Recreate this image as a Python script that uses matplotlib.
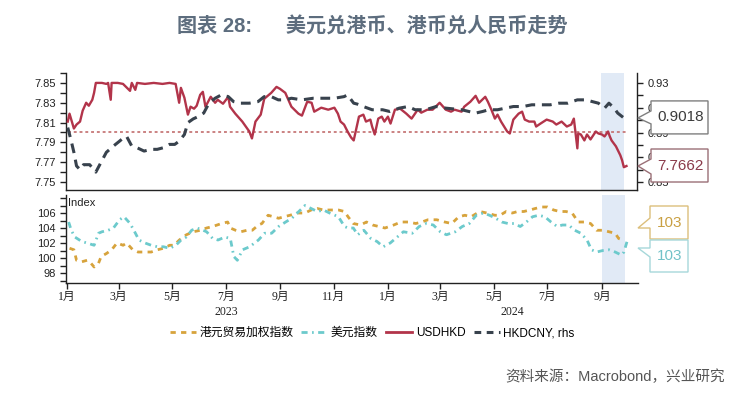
import matplotlib
matplotlib.use('Agg')
import matplotlib.pyplot as plt
import matplotlib.dates as mdates
from matplotlib.patches import Polygon
from matplotlib.ticker import MultipleLocator, FuncFormatter
from matplotlib.lines import Line2D
import pandas as pd

plt.rcParams['font.family'] = ['Liberation Sans', 'Noto Sans CJK SC', 'DejaVu Sans']

# ---------------- data ----------------
usdhkd_dates = [
    "2023-01-02", "2023-01-04", "2023-01-09", "2023-01-12", "2023-01-16", "2023-01-19", "2023-01-23",
    "2023-01-26", "2023-01-30", "2023-02-01", "2023-02-03", "2023-02-10", "2023-02-15", "2023-02-17",
    "2023-02-20", "2023-02-21", "2023-02-28", "2023-03-06", "2023-03-14", "2023-03-16", "2023-03-20",
    "2023-03-22", "2023-03-31", "2023-04-10", "2023-04-20", "2023-04-28", "2023-05-05", "2023-05-09",
    "2023-05-11", "2023-05-15", "2023-05-19", "2023-05-22", "2023-05-26", "2023-05-29", "2023-06-02",
    "2023-06-05", "2023-06-08", "2023-06-14", "2023-06-19", "2023-06-22", "2023-06-28", "2023-07-04",
    "2023-07-06", "2023-07-12", "2023-07-20", "2023-07-28", "2023-07-31", "2023-08-04", "2023-08-10",
    "2023-08-14", "2023-08-22", "2023-08-28", "2023-09-01", "2023-09-07", "2023-09-14", "2023-09-22",
    "2023-09-26", "2023-10-02", "2023-10-07", "2023-10-10", "2023-10-18", "2023-10-26", "2023-11-02",
    "2023-11-06", "2023-11-09", "2023-11-13", "2023-11-17", "2023-11-21", "2023-11-24", "2023-11-30",
    "2023-12-05", "2023-12-08", "2023-12-13", "2023-12-15", "2023-12-18", "2023-12-22", "2023-12-26",
    "2023-12-29", "2024-01-02", "2024-01-05", "2024-01-10", "2024-01-16", "2024-01-23", "2024-01-29",
    "2024-02-05", "2024-02-09", "2024-02-16", "2024-02-22", "2024-03-01", "2024-03-08", "2024-03-14",
    "2024-03-18", "2024-03-26", "2024-03-29", "2024-04-05", "2024-04-11", "2024-04-15", "2024-04-22",
    "2024-04-25", "2024-04-29", "2024-05-03", "2024-05-06", "2024-05-10", "2024-05-17", "2024-05-20",
    "2024-05-24", "2024-05-30", "2024-06-03", "2024-06-06", "2024-06-11", "2024-06-17", "2024-06-19",
    "2024-06-24", "2024-07-01", "2024-07-08", "2024-07-12", "2024-07-18", "2024-07-24", "2024-07-29",
    "2024-08-01", "2024-08-05", "2024-08-06", "2024-08-09", "2024-08-13", "2024-08-16", "2024-08-20",
    "2024-08-26", "2024-08-29", "2024-09-02", "2024-09-05", "2024-09-09", "2024-09-11", "2024-09-13",
    "2024-09-18", "2024-09-23", "2024-09-25", "2024-09-27", "2024-09-30",
]
usdhkd_values = [
    7.811, 7.819, 7.804, 7.808, 7.811, 7.822, 7.830,
    7.827, 7.833, 7.840, 7.850, 7.850, 7.849, 7.850,
    7.833, 7.850, 7.850, 7.849, 7.842, 7.850, 7.843,
    7.850, 7.849, 7.850, 7.849, 7.850, 7.849, 7.830,
    7.845, 7.835, 7.818, 7.826, 7.824, 7.827, 7.838,
    7.841, 7.826, 7.836, 7.830, 7.833, 7.829, 7.836,
    7.826, 7.819, 7.811, 7.801, 7.794, 7.811, 7.818,
    7.834, 7.840, 7.846, 7.844, 7.840, 7.826, 7.819,
    7.817, 7.831, 7.830, 7.821, 7.825, 7.823, 7.825,
    7.819, 7.811, 7.808, 7.801, 7.795, 7.792, 7.816,
    7.818, 7.811, 7.813, 7.806, 7.798, 7.814, 7.816,
    7.811, 7.816, 7.809, 7.823, 7.824, 7.819, 7.814,
    7.823, 7.820, 7.823, 7.823, 7.830, 7.823, 7.821,
    7.823, 7.821, 7.826, 7.831, 7.837, 7.830, 7.836,
    7.831, 7.823, 7.814, 7.818, 7.811, 7.801, 7.799,
    7.813, 7.819, 7.821, 7.813, 7.811, 7.811, 7.806,
    7.809, 7.813, 7.811, 7.808, 7.811, 7.806, 7.808,
    7.814, 7.784, 7.799, 7.798, 7.792, 7.798, 7.793,
    7.801, 7.799, 7.798, 7.796, 7.801, 7.796, 7.792,
    7.786, 7.777, 7.772, 7.765, 7.7662,
]

hkdcny_dates = [
    "2023-01-02", "2023-01-06", "2023-01-09", "2023-01-12", "2023-01-16", "2023-01-20", "2023-01-27",
    "2023-02-03", "2023-02-09", "2023-02-15", "2023-02-23", "2023-03-02", "2023-03-07", "2023-03-10",
    "2023-03-16", "2023-03-22", "2023-03-30", "2023-04-07", "2023-04-14", "2023-04-21", "2023-04-28",
    "2023-05-04", "2023-05-09", "2023-05-15", "2023-05-19", "2023-05-25", "2023-05-31", "2023-06-06",
    "2023-06-12", "2023-06-19", "2023-06-26", "2023-07-04", "2023-07-10", "2023-07-18", "2023-07-28",
    "2023-08-07", "2023-08-14", "2023-08-22", "2023-08-30", "2023-09-07", "2023-09-14", "2023-09-26",
    "2023-10-09", "2023-10-23", "2023-11-02", "2023-11-13", "2023-11-17", "2023-11-24", "2023-11-28",
    "2023-12-05", "2023-12-15", "2023-12-27", "2024-01-04", "2024-01-15", "2024-01-25", "2024-02-02",
    "2024-02-14", "2024-02-26", "2024-03-08", "2024-03-26", "2024-04-11", "2024-04-19", "2024-04-26",
    "2024-05-06", "2024-05-15", "2024-05-24", "2024-06-04", "2024-06-14", "2024-06-24", "2024-07-05",
    "2024-07-15", "2024-07-25", "2024-08-05", "2024-08-15", "2024-08-22", "2024-08-29", "2024-09-05",
    "2024-09-10", "2024-09-16", "2024-09-20", "2024-09-27",
]
hkdcny_values = [
    0.894, 0.883, 0.874, 0.863, 0.860, 0.864, 0.864,
    0.858, 0.866, 0.874, 0.879, 0.883, 0.886, 0.887,
    0.879, 0.8777, 0.875, 0.8764, 0.8764, 0.8777, 0.8804,
    0.8804, 0.883, 0.8884, 0.898, 0.901, 0.903, 0.9057,
    0.9137, 0.9177, 0.9204, 0.919, 0.915, 0.9137, 0.9137,
    0.915, 0.919, 0.919, 0.9164, 0.9164, 0.9177, 0.9164,
    0.9177, 0.9177, 0.9177, 0.919, 0.9204, 0.9137, 0.913,
    0.911, 0.9084, 0.9084, 0.907, 0.9097, 0.911, 0.9084,
    0.9084, 0.911, 0.9097, 0.9084, 0.9057, 0.907, 0.9084,
    0.9084, 0.9097, 0.911, 0.911, 0.9124, 0.9124, 0.9124,
    0.9137, 0.9137, 0.9164, 0.9164, 0.915, 0.9137, 0.9097,
    0.9137, 0.9097, 0.9057, 0.9018,
]

twi_dates = [
    "2023-01-04", "2023-01-09", "2023-01-12", "2023-01-18", "2023-01-24", "2023-01-27", "2023-02-01",
    "2023-02-06", "2023-02-09", "2023-02-15", "2023-02-21", "2023-02-27", "2023-03-06", "2023-03-10",
    "2023-03-17", "2023-03-23", "2023-03-30", "2023-04-07", "2023-04-14", "2023-04-21", "2023-04-28",
    "2023-05-03", "2023-05-09", "2023-05-17", "2023-05-25", "2023-06-02", "2023-06-09", "2023-06-16",
    "2023-06-26", "2023-07-03", "2023-07-06", "2023-07-12", "2023-07-18", "2023-07-25", "2023-07-31",
    "2023-08-07", "2023-08-11", "2023-08-18", "2023-08-24", "2023-08-30", "2023-09-05", "2023-09-12",
    "2023-09-20", "2023-09-29", "2023-10-06", "2023-10-13", "2023-10-20", "2023-10-27", "2023-11-06",
    "2023-11-13", "2023-11-17", "2023-11-23", "2023-12-01", "2023-12-08", "2023-12-15", "2023-12-22",
    "2023-12-29", "2024-01-08", "2024-01-16", "2024-01-25", "2024-02-02", "2024-02-09", "2024-02-16",
    "2024-02-26", "2024-03-06", "2024-03-14", "2024-03-22", "2024-03-29", "2024-04-05", "2024-04-15",
    "2024-04-23", "2024-05-02", "2024-05-08", "2024-05-15", "2024-05-22", "2024-05-28", "2024-06-04",
    "2024-06-11", "2024-06-17", "2024-06-24", "2024-07-01", "2024-07-08", "2024-07-15", "2024-07-22",
    "2024-07-29", "2024-08-05", "2024-08-12", "2024-08-19", "2024-08-26", "2024-09-02", "2024-09-09",
    "2024-09-16", "2024-09-20", "2024-09-25",
]
twi_values = [
    101.3, 101.1, 99.7, 99.5, 99.7, 99.5, 98.8,
    99.3, 100.2, 100.6, 101.1, 102.0, 101.7, 102.0,
    101.1, 100.8, 100.8, 100.8, 101.1, 101.3, 101.7,
    101.7, 102.4, 103.1, 103.5, 103.7, 104.0, 104.2,
    104.6, 104.8, 104.0, 103.7, 103.5, 103.7, 103.7,
    104.4, 104.6, 105.7, 105.5, 105.3, 105.5, 105.7,
    106.0, 106.0, 106.4, 106.6, 106.4, 106.4, 106.4,
    106.2, 105.5, 104.6, 104.4, 104.8, 104.4, 104.2,
    104.0, 104.4, 104.8, 104.8, 104.6, 104.8, 105.1,
    105.1, 104.8, 104.6, 105.5, 105.7, 105.5, 106.2,
    106.0, 105.7, 105.7, 106.2, 106.0, 106.2, 106.2,
    106.4, 106.6, 106.8, 106.8, 106.4, 106.2, 106.2,
    106.0, 104.8, 104.8, 104.6, 103.7, 103.7, 103.5,
    103.3, 102.6, 102.4,
]

dxy_dates = [
    "2023-01-03", "2023-01-06", "2023-01-10", "2023-01-18", "2023-01-24", "2023-02-01", "2023-02-06",
    "2023-02-10", "2023-02-17", "2023-02-23", "2023-03-02", "2023-03-07", "2023-03-14", "2023-03-20",
    "2023-03-24", "2023-03-31", "2023-04-07", "2023-04-14", "2023-04-21", "2023-04-28", "2023-05-05",
    "2023-05-11", "2023-05-17", "2023-05-23", "2023-05-29", "2023-06-05", "2023-06-09", "2023-06-16",
    "2023-06-22", "2023-06-30", "2023-07-06", "2023-07-10", "2023-07-14", "2023-07-20", "2023-07-28",
    "2023-08-07", "2023-08-14", "2023-08-22", "2023-08-30", "2023-09-07", "2023-09-14", "2023-09-22",
    "2023-09-29", "2023-10-06", "2023-10-13", "2023-10-20", "2023-10-27", "2023-11-06", "2023-11-13",
    "2023-11-17", "2023-11-23", "2023-11-28", "2023-12-05", "2023-12-13", "2023-12-20", "2023-12-27",
    "2024-01-04", "2024-01-12", "2024-01-19", "2024-01-29", "2024-02-06", "2024-02-14", "2024-02-22",
    "2024-03-01", "2024-03-08", "2024-03-18", "2024-03-26", "2024-04-03", "2024-04-11", "2024-04-19",
    "2024-04-26", "2024-05-03", "2024-05-10", "2024-05-17", "2024-05-24", "2024-05-31", "2024-06-07",
    "2024-06-14", "2024-06-21", "2024-06-28", "2024-07-05", "2024-07-12", "2024-07-18", "2024-07-25",
    "2024-08-01", "2024-08-08", "2024-08-15", "2024-08-20", "2024-08-26", "2024-09-02", "2024-09-09",
    "2024-09-16", "2024-09-23", "2024-09-26", "2024-09-30",
]
dxy_values = [
    104.8, 103.7, 102.8, 102.2, 102.0, 101.7, 103.3,
    103.5, 103.7, 104.0, 105.1, 105.5, 104.6, 103.3,
    102.4, 102.0, 101.7, 101.5, 101.5, 101.3, 101.7,
    102.4, 102.8, 103.7, 104.0, 103.7, 103.5, 102.6,
    102.4, 102.8, 102.6, 100.2, 99.7, 101.1, 101.5,
    102.4, 103.3, 103.3, 104.2, 104.8, 105.3, 106.2,
    107.0, 106.6, 106.2, 106.4, 106.0, 105.5, 104.2,
    104.0, 104.0, 103.1, 103.7, 102.6, 102.2, 101.5,
    102.0, 102.8, 103.5, 103.3, 104.2, 104.6, 104.4,
    103.5, 103.1, 103.5, 104.2, 104.6, 105.7, 106.0,
    105.7, 105.3, 104.8, 104.6, 104.6, 104.2, 104.8,
    105.5, 105.7, 105.5, 104.8, 104.2, 104.4, 104.4,
    103.7, 103.3, 102.4, 101.1, 100.8, 101.0, 101.1,
    100.8, 100.4, 100.8, 102.4,
]

peg_center = 7.80
shade_period = ["2024-09-01", "2024-09-27"]
x_range = ["2022-12-31", "2024-10-12"]
usdhkd_ticks = [7.75, 7.77, 7.79, 7.81, 7.83, 7.85]
hkdcny_ticks = [0.85, 0.87, 0.89, 0.91, 0.93]
index_ticks = [98, 100, 102, 104, 106]
twi_label = "103"
dxy_label = "103"
legend_labels = ["港元贸易加权指数", "美元指数", "USDHKD", "HKDCNY, rhs"]
title_text = "图表 28:      美元兑港币、港币兑人民币走势"
source_text = "资料来源：Macrobond，兴业研究"

# ---------------- colours ----------------
c_red = "#b2344a"
c_dark = "#38424d"
c_orange = "#d7a33c"
c_teal = "#6ccacc"
c_shade = "#e1eaf6"

W, H = 737, 394
fig = plt.figure(figsize=(W / 100, H / 100), dpi=100)


def fx(px):
    return px / W


def fy(py):
    return 1 - py / H


ax1 = fig.add_axes([fx(66), fy(190), (637 - 66) / W, (190 - 73) / H])
ax1r = ax1.twinx()
ax2 = fig.add_axes([fx(66), fy(283), (638 - 66) / W, (283 - 195) / H])

d_usd = pd.to_datetime(usdhkd_dates)
d_cny = pd.to_datetime(hkdcny_dates)
d_twi = pd.to_datetime(twi_dates)
d_dxy = pd.to_datetime(dxy_dates)
xr = pd.to_datetime(x_range)
sh = pd.to_datetime(shade_period)

# upper panel
ax1.axvspan(sh[0], sh[1], color=c_shade, lw=0, zorder=0)
ax1.plot([d_usd[0], d_usd[-1]], [peg_center, peg_center], color="#c77878", lw=1.3,
         dashes=(1.6, 1.6), zorder=1)
ax1.plot(d_usd, usdhkd_values, color=c_red, lw=1.7, zorder=3)
ax1r.plot(d_cny, hkdcny_values, color=c_dark, lw=2.2, dashes=(3.2, 2.2), zorder=2)

ax1.set_xlim(xr[0], xr[1])
ax1.set_ylim(7.742, 7.860)
ax1r.set_ylim(0.84354, 0.9381)

ax1.set_yticks(usdhkd_ticks)
ax1.yaxis.set_minor_locator(MultipleLocator(0.01))
ax1.yaxis.set_major_formatter(FuncFormatter(lambda v, p: f"{v:.2f}"))
ax1r.set_yticks(hkdcny_ticks)
ax1r.yaxis.set_minor_locator(MultipleLocator(0.01))
ax1r.yaxis.set_major_formatter(FuncFormatter(lambda v, p: f"{v:.2f}"))

for a in (ax1, ax1r):
    a.spines["top"].set_visible(False)
ax1.spines["right"].set_visible(False)
ax1r.spines["left"].set_visible(False)
ax1r.spines["bottom"].set_visible(False)
for sp in ("left", "bottom"):
    ax1.spines[sp].set_color("#222222")
    ax1.spines[sp].set_linewidth(1.0)
ax1r.spines["right"].set_color("#222222")
ax1r.spines["right"].set_linewidth(1.0)

ax1.tick_params(axis="x", which="both", bottom=False, labelbottom=False)
ax1.tick_params(axis="y", which="both", direction="out", length=4.5, width=1, color="#222222",
                labelsize=8, labelcolor="#222222", pad=3)
ax1r.tick_params(axis="y", which="both", direction="out", length=4.5, width=1, color="#222222",
                 labelsize=8, labelcolor="#222222", pad=3)

# lower panel
ax2.axvspan(sh[0], sh[1], color=c_shade, lw=0, zorder=0)
ax2.plot(d_twi, twi_values, color=c_orange, lw=2.0, dashes=(1.9, 1.9), zorder=2)
ax2.plot(d_dxy, dxy_values, color=c_teal, lw=2.0, dashes=(2.2, 1.6, 0.6, 1.6), zorder=3)
ax2.set_xlim(xr[0], xr[1])
ax2.set_ylim(96.67, 108.4)
ax2.set_yticks(index_ticks)
ax2.yaxis.set_minor_locator(MultipleLocator(1))
ax2.yaxis.set_major_formatter(FuncFormatter(lambda v, p: f"{v:.0f}"))
ax2.spines["top"].set_visible(False)
ax2.spines["right"].set_visible(False)
for sp in ("left", "bottom"):
    ax2.spines[sp].set_color("#222222")
    ax2.spines[sp].set_linewidth(1.0)
ax2.tick_params(axis="y", which="both", direction="out", length=4.5, width=1, color="#222222",
                labelsize=8, labelcolor="#222222", pad=3)
ax2.xaxis.set_major_locator(mdates.MonthLocator(bymonth=[1, 3, 5, 7, 9, 11]))
ax2.xaxis.set_major_formatter(FuncFormatter(lambda v, p: f"{mdates.num2date(v).month}月"))
ax2.tick_params(axis="x", which="major", direction="out", length=4, width=1, color="#222222",
                labelsize=8.5, labelcolor="#222222", pad=2)
for lab in ax2.get_xticklabels():
    lab.set_fontfamily(["Liberation Serif", "Noto Sans CJK SC"])
ax2.text(0.004, 0.905, "Index", transform=ax2.transAxes, fontsize=8, color="#222222",
         ha="left", va="center")

# year labels centred on each year's span
y_spans = [(xr[0], pd.Timestamp("2024-01-01"), "2023"), (pd.Timestamp("2024-01-01"), xr[1], "2024")]
for a0, a1, lab in y_spans:
    mid = a0 + (a1 - a0) / 2
    ax2.annotate(lab, xy=(mid, 0), xycoords=("data", "axes fraction"), xytext=(0, -21),
                 textcoords="offset points", ha="center", va="center", fontsize=8.5,
                 family=["Liberation Serif"], color="#222222", annotation_clip=False)

# title and source
fig.text(fx(372), fy(27), title_text, ha="center", va="center", fontsize=14.5,
         color="#5d6d7e", fontweight="bold")
fig.text(fx(725), fy(377), source_text, ha="right", va="center", fontsize=10.5, color="#555555")

# legend
handles = [
    Line2D([], [], color=c_orange, lw=2.0, dashes=(1.9, 1.9)),
    Line2D([], [], color=c_teal, lw=2.0, dashes=(2.2, 1.6, 0.6, 1.6)),
    Line2D([], [], color=c_red, lw=2.0),
    Line2D([], [], color=c_dark, lw=2.2, dashes=(2.2, 1.8)),
]
fig.legend(handles, legend_labels, loc="center", bbox_to_anchor=(fx(372), fy(333)), ncol=4,
           frameon=False, fontsize=8.5, handlelength=2.2, handletextpad=0.3, columnspacing=0.7)


# callouts
def callout(box, tip_y, notch, edge, text, tcolor, fsize, tip_x=638):
    x0, y0, x1, y1 = box
    n0, n1 = notch
    pts = [(x0, y0), (x1, y0), (x1, y1), (x0, y1), (x0, n1), (tip_x, tip_y), (x0, n0)]
    poly = Polygon([(fx(a), fy(b)) for a, b in pts], closed=True, transform=fig.transFigure,
                   facecolor="white", edgecolor=edge, lw=1.0, zorder=5)
    fig.add_artist(poly)
    fig.text(fx((x0 + x1) / 2 + 1), fy((y0 + y1) / 2), text, ha="center", va="center",
             fontsize=fsize, color=tcolor, zorder=6)


fig.canvas.draw()
tip_cny = H - ax1r.transData.transform((mdates.date2num(xr[1]), hkdcny_values[-1]))[1]
tip_usd = H - ax1.transData.transform((mdates.date2num(xr[1]), usdhkd_values[-1]))[1]

callout((651, tip_cny - 17, 708, tip_cny + 16), tip_cny, (tip_cny - 7, tip_cny + 6),
        "#7f7f7f", f"{hkdcny_values[-1]:.4f}", "#3c3c3c", 11)
callout((651, tip_usd - 17, 708, tip_usd + 16), tip_usd, (tip_usd - 7, tip_usd + 8),
        "#9a6f76", f"{usdhkd_values[-1]:.4f}", "#8a3a4a", 11)
callout((650, 206, 688, 239), 228, (218, 228), "#dcbf7c", twi_label, "#c9a043", 11)
callout((650, 240, 688, 272), 248, (248, 257), "#a6d8da", dxy_label, "#72c2c8", 11)

fig.savefig("out.png", dpi=100)
